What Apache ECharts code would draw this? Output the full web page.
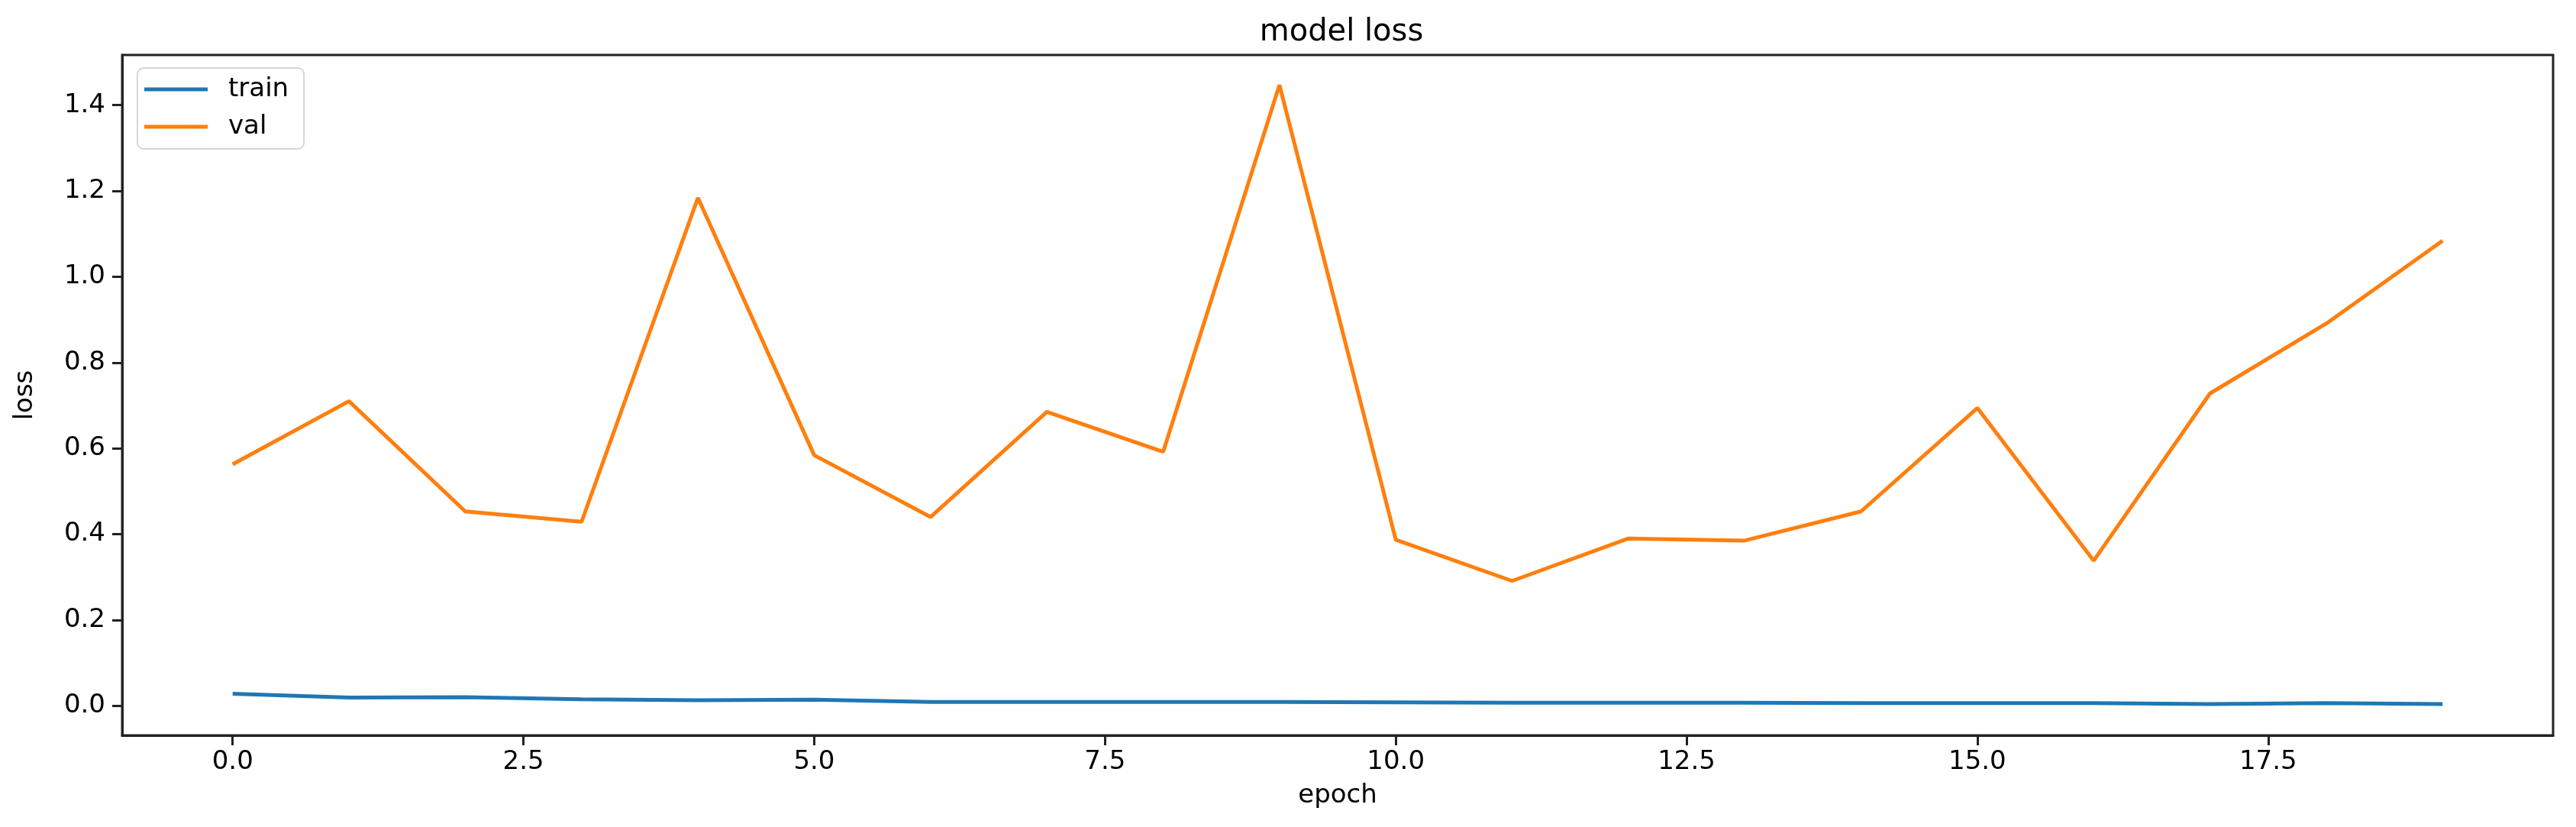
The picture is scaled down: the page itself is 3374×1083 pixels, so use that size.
<!DOCTYPE html>
<html>
<head>
<meta charset="utf-8">
<script src="https://cdn.jsdelivr.net/npm/echarts@6/dist/echarts.min.js"></script>
<style>html,body{margin:0;padding:0;background:#fff;}#c{width:3374px;height:1083px;}</style>
</head>
<body>
<div id="c"></div>
<script>
const epochs = [0,1,2,3,4,5,6,7,8,9,10,11,12,13,14,15,16,17,18,19];
const trainLoss = [0.028,0.019,0.020,0.015,0.013,0.014,0.009,0.009,0.009,0.009,0.008,0.007,0.007,0.007,0.006,0.006,0.006,0.004,0.006,0.004];
const valLoss = [0.563,0.710,0.453,0.429,1.184,0.584,0.440,0.685,0.592,1.447,0.387,0.291,0.390,0.385,0.453,0.694,0.338,0.728,0.891,1.084];
const xTicks = [0,2.5,5,7.5,10,12.5,15,17.5];
const yTicks = [0,0.2,0.4,0.6,0.8,1.0,1.2,1.4];

const font = 'DejaVu Sans';
const axisColor = '#222';
const chart = echarts.init(document.getElementById('c'), null, {renderer:'canvas'});
chart.setOption({
  animation: false,
  backgroundColor: '#fff',
  title: {
    text: 'model loss', left: 1752, top: 18, textAlign: 'center',
    textStyle: {fontFamily: font, fontSize: 40, fontWeight: 'normal', color: '#000'}
  },
  legend: {
    orient: 'vertical', left: 180, top: 89,
    padding: [11, 20, 12, 9], itemGap: 15,
    itemWidth: 83, itemHeight: 5, icon: 'rect',
    borderColor: '#d5d5d5', borderWidth: 2, borderRadius: 8,
    backgroundColor: 'rgba(255,255,255,0.8)',
    textStyle: {fontFamily: font, fontSize: 34, color: '#000', padding: [0,0,0,22]},
    data: ['train','val']
  },
  grid: {left: 160, right: 30, top: 72, bottom: 120, show: true, borderColor: axisColor, borderWidth: 3, backgroundColor: '#fff'},
  xAxis: {
    type: 'value', min: -0.95, max: 19.95,
    name: 'epoch', nameLocation: 'middle', nameGap: 62,
    nameTextStyle: {fontFamily: font, fontSize: 34, color: '#000'},
    splitLine: {show: false},
    axisLine: {show: true, onZero: false, lineStyle: {color: axisColor, width: 3}},
    axisTick: {show: true, inside: false, length: 13, lineStyle: {color: axisColor, width: 3}, customValues: xTicks},
    axisLabel: {fontFamily: font, fontSize: 34, color: '#000', margin: 18, customValues: xTicks,
      formatter: v => v.toFixed(1)}
  },
  yAxis: {
    type: 'value', min: -0.069, max: 1.517,
    name: 'loss', nameLocation: 'middle', nameGap: 110, nameRotate: 90,
    nameTextStyle: {fontFamily: font, fontSize: 34, color: '#000'},
    splitLine: {show: false},
    axisLine: {show: true, onZero: false, lineStyle: {color: axisColor, width: 3}},
    axisTick: {show: true, inside: false, length: 13, lineStyle: {color: axisColor, width: 3}, customValues: yTicks},
    axisLabel: {fontFamily: font, fontSize: 34, color: '#000', margin: 22, customValues: yTicks,
      formatter: v => v.toFixed(1)}
  },
  series: [
    {name: 'train', type: 'line', data: epochs.map((e,i)=>[e, trainLoss[i]]), showSymbol: false, symbol: 'none',
      itemStyle: {color: '#1f77b4'}, lineStyle: {color: '#1f77b4', width: 5}},
    {name: 'val', type: 'line', data: epochs.map((e,i)=>[e, valLoss[i]]), showSymbol: false, symbol: 'none',
      itemStyle: {color: '#ff7f0e'}, lineStyle: {color: '#ff7f0e', width: 5}}
  ]
});
</script>
</body>
</html>
